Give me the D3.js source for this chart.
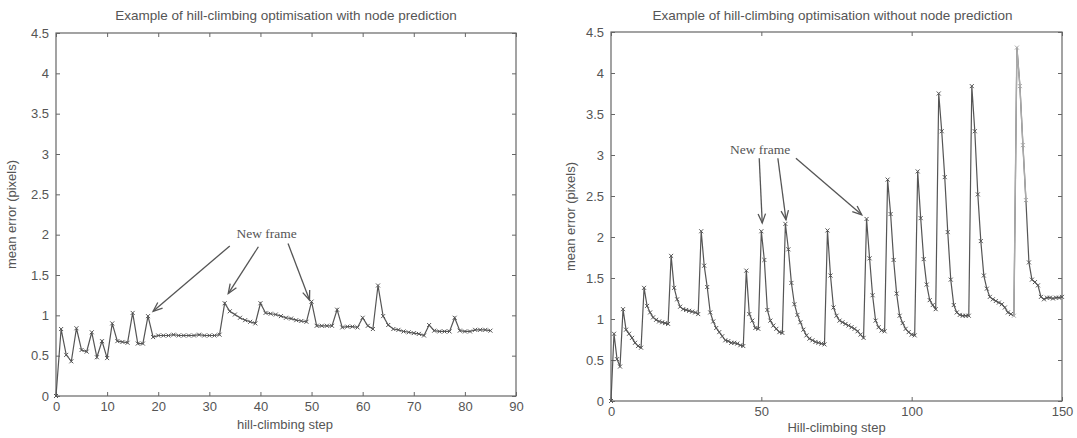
<!DOCTYPE html>
<html>
<head>
<meta charset="utf-8">
<script src="https://cdn.jsdelivr.net/npm/d3@7"></script>
<style>
body { margin: 0; background: #fff; }
svg text { font-family: "Liberation Sans", Arial, sans-serif; fill: #555; }
</style>
</head>
<body>
<div id="vis-container"></div>
<script>
// mean error per hill-climbing step (index = step)
var leftError = [
  0.00, 0.83, 0.51, 0.43, 0.84, 0.57, 0.55, 0.79, 0.48, 0.68,
  0.47, 0.90, 0.68, 0.67, 0.66, 1.03, 0.65, 0.65, 0.99, 0.73,
  0.75, 0.75, 0.75, 0.76, 0.75, 0.75, 0.75, 0.75, 0.76, 0.75,
  0.75, 0.75, 0.76, 1.15, 1.05, 1.01, 0.97, 0.94, 0.92, 0.90,
  1.15, 1.03, 1.02, 1.01, 0.99, 0.97, 0.96, 0.94, 0.93, 0.92,
  1.17, 0.87, 0.87, 0.87, 0.87, 1.07, 0.85, 0.86, 0.86, 0.85,
  0.97, 0.87, 0.83, 1.37, 0.99, 0.88, 0.83, 0.82, 0.80, 0.79,
  0.78, 0.77, 0.75, 0.88, 0.81, 0.80, 0.80, 0.80, 0.97, 0.81,
  0.80, 0.80, 0.82, 0.82, 0.82, 0.81
];

var rightError = [
  0.00, 0.82, 0.51, 0.42, 1.12, 0.87, 0.82, 0.77, 0.71, 0.67,
  0.65, 1.38, 1.16, 1.08, 1.02, 0.99, 0.97, 0.96, 0.95, 0.94,
  1.77, 1.38, 1.24, 1.15, 1.12, 1.11, 1.10, 1.09, 1.08, 1.06,
  2.07, 1.65, 1.39, 1.08, 0.97, 0.89, 0.84, 0.79, 0.74, 0.73,
  0.71, 0.71, 0.70, 0.68, 0.67, 1.59, 1.06, 0.98, 0.89, 0.88,
  2.07, 1.72, 1.11, 0.98, 0.92, 0.88, 0.84, 0.83, 2.16, 1.85,
  1.44, 1.18, 1.05, 0.96, 0.87, 0.80, 0.76, 0.74, 0.72, 0.71,
  0.70, 0.69, 2.08, 1.53, 1.14, 1.04, 0.98, 0.96, 0.94, 0.92,
  0.90, 0.88, 0.85, 0.81, 0.77, 2.22, 1.74, 1.29, 0.98, 0.90,
  0.86, 0.85, 2.70, 2.28, 1.72, 1.31, 1.04, 0.95, 0.88, 0.84,
  0.81, 0.80, 2.80, 2.23, 1.73, 1.42, 1.23, 1.17, 1.12, 3.75,
  3.29, 2.73, 2.06, 1.48, 1.17, 1.08, 1.05, 1.04, 1.04, 1.04,
  3.84, 3.29, 2.52, 1.95, 1.53, 1.37, 1.27, 1.24, 1.22, 1.20,
  1.18, 1.14, 1.08, 1.06, 1.04, 4.31, 3.84, 3.12, 2.45, 1.69,
  1.48, 1.45, 1.41, 1.27, 1.24, 1.26, 1.26, 1.25, 1.26, 1.26,
  1.27
];
// steps where the scanned right curve is printed lighter
var rightFaded = [134, 138];

var leftXTicks = [0, 10, 20, 30, 40, 50, 60, 70, 80, 90];
var rightXTicks = [0, 50, 100, 150];
var yTicks = [0, 0.5, 1, 1.5, 2, 2.5, 3, 3.5, 4, 4.5];

var leftTitle = "Example of hill-climbing optimisation with node prediction";
var rightTitle = "Example of hill-climbing optimisation without node prediction";
var leftXLabel = "hill-climbing step";
var rightXLabel = "Hill-climbing step";
var yLabel = "mean error (pixels)";
var noteText = "New frame";

// annotation arrows in data units: [step, error]
var leftNote = [41.2, 2.02];
var leftArrows = [
  { from: [34.0, 1.86], to: [19.0, 1.05] },
  { from: [39.6, 1.85], to: [33.7, 1.27] },
  { from: [45.4, 1.89], to: [49.6, 1.19] }
];
var rightNote = [49.6, 3.07];
var rightArrows = [
  { from: [49.3, 2.96], to: [50.3, 2.17] },
  { from: [55.5, 2.96], to: [58.2, 2.21] },
  { from: [61.5, 2.96], to: [83.4, 2.27] }
];

var width = 1077;
var height = 438;
var ink = "#555";
var faded = "#aaa";
var axisInk = "#666";

var svg = d3.select("#vis-container")
  .append("svg")
  .attr("width", width)
  .attr("height", height);

function drawPanel(p) {
  var x = d3.scaleLinear().domain([0, p.xmax]).range([p.left, p.right]);
  var y = d3.scaleLinear().domain([0, 4.5]).range([p.bottom, p.top]);
  var g = svg.append("g");

  g.append("rect")
    .attr("x", p.left).attr("y", p.top)
    .attr("width", p.right - p.left).attr("height", p.bottom - p.top)
    .attr("fill", "none").attr("stroke", axisInk).attr("stroke-width", 1.2);

  var bottomAxis = g.append("g")
    .attr("transform", "translate(0," + p.bottom + ")")
    .call(d3.axisBottom(x).tickValues(p.xticks).tickSize(-4).tickSizeOuter(0)
      .tickPadding(p.xpad).tickFormat(d3.format("d")));
  var topAxis = g.append("g")
    .attr("transform", "translate(0," + p.top + ")")
    .call(d3.axisTop(x).tickValues(p.xticks).tickSize(-4).tickSizeOuter(0).tickFormat(""));
  var leftAxis = g.append("g")
    .attr("transform", "translate(" + p.left + ",0)")
    .call(d3.axisLeft(y).tickValues(yTicks).tickSize(-4).tickSizeOuter(0)
      .tickPadding(7).tickFormat(function(d) { return String(d); }));
  var rightAxis = g.append("g")
    .attr("transform", "translate(" + p.right + ",0)")
    .call(d3.axisRight(y).tickValues(yTicks).tickSize(-4).tickSizeOuter(0).tickFormat(""));

  [bottomAxis, topAxis, leftAxis, rightAxis].forEach(function(a) {
    a.select(".domain").remove();
    a.selectAll(".tick line").attr("stroke", axisInk);
    a.selectAll("text").attr("font-size", 13).attr("fill", ink);
  });

  var line = d3.line()
    .x(function(d) { return x(d[0]); })
    .y(function(d) { return y(d[1]); });

  var pts = p.data.map(function(v, i) { return [i, v]; });
  var isFaded = function(d) { return p.faded && d[0] >= p.faded[0] && d[0] <= p.faded[1]; };

  g.append("path")
    .datum(pts)
    .attr("d", line)
    .attr("fill", "none")
    .attr("stroke", ink)
    .attr("stroke-width", 1.2);

  if (p.faded) {
    g.append("path")
      .datum(pts.filter(isFaded))
      .attr("d", line)
      .attr("fill", "none")
      .attr("stroke", faded)
      .attr("stroke-width", 1.4);
  }

  g.selectAll(".marker")
    .data(pts)
    .enter()
    .append("path")
    .attr("class", "marker")
    .attr("transform", function(d) { return "translate(" + x(d[0]) + "," + y(d[1]) + ")"; })
    .attr("d", "M-2,-2L2,2M-2,2L2,-2")
    .attr("stroke", function(d) { return isFaded(d) ? faded : ink; })
    .attr("stroke-width", 1);

  g.append("text")
    .attr("x", (p.left + p.right) / 2 + p.titleShift)
    .attr("y", 20)
    .attr("text-anchor", "middle")
    .attr("font-size", 13.5)
    .text(p.title);

  g.append("text")
    .attr("x", (p.left + p.right) / 2 + p.labelShift)
    .attr("y", p.xlabelY)
    .attr("text-anchor", "middle")
    .attr("font-size", 13)
    .text(p.xlabel);

  g.append("text")
    .attr("transform", "translate(" + p.ylabelX + "," + ((p.top + p.bottom) / 2) + ") rotate(-90)")
    .attr("text-anchor", "middle")
    .attr("font-size", 13)
    .text(yLabel);

  // "New frame" annotation
  g.append("text")
    .attr("x", x(p.note[0]))
    .attr("y", y(p.note[1]))
    .attr("text-anchor", "middle")
    .attr("dy", "0.35em")
    .style("font-family", "'Liberation Serif', 'Times New Roman', serif")
    .attr("font-size", 13.5)
    .text(noteText);

  p.arrows.forEach(function(a) {
    var x1 = x(a.from[0]), y1 = y(a.from[1]);
    var x2 = x(a.to[0]), y2 = y(a.to[1]);
    var ang = Math.atan2(y2 - y1, x2 - x1);
    var len = 10, spread = 0.38;
    var head = "M" + (x2 - len * Math.cos(ang - spread)) + "," + (y2 - len * Math.sin(ang - spread)) +
      "L" + x2 + "," + y2 +
      "L" + (x2 - len * Math.cos(ang + spread)) + "," + (y2 - len * Math.sin(ang + spread));
    g.append("line")
      .attr("x1", x1).attr("y1", y1).attr("x2", x2).attr("y2", y2)
      .attr("stroke", ink).attr("stroke-width", 1.3);
    g.append("path")
      .attr("d", head)
      .attr("fill", "none")
      .attr("stroke", ink)
      .attr("stroke-width", 1.3);
  });
}

drawPanel({
  data: leftError, xmax: 90, xticks: leftXTicks,
  left: 56, right: 516, top: 33, bottom: 396, xpad: 6,
  title: leftTitle, titleShift: 0, xlabel: leftXLabel, labelShift: -1, xlabelY: 429,
  ylabelX: 16, note: leftNote, arrows: leftArrows, faded: null
});

drawPanel({
  data: rightError, xmax: 150, xticks: rightXTicks,
  left: 611, right: 1062, top: 32, bottom: 401, xpad: 6,
  title: rightTitle, titleShift: -4, xlabel: rightXLabel, labelShift: 0, xlabelY: 432,
  ylabelX: 575, note: rightNote, arrows: rightArrows, faded: rightFaded
});
</script>
</body>
</html>
